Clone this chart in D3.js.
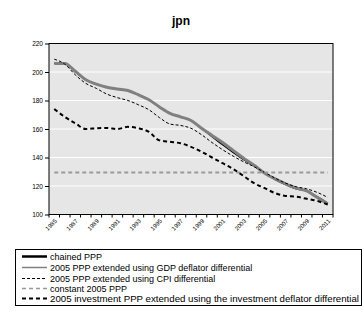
<!DOCTYPE html>
<html>
<head>
<meta charset="utf-8">
<script src="https://cdn.jsdelivr.net/npm/d3@7"></script>
<style>
  body { margin: 0; background: #fff; }
  svg { font-family: "Liberation Sans", Arial, sans-serif; }
</style>
</head>
<body>
<svg id="chart" width="363" height="318"></svg>
<script>
// data
const years = d3.range(1985, 2012);
const chained = [206, 206, 200, 194.5, 191.5, 189.3, 188, 187, 184, 180.5, 175.5, 171, 168.5, 166, 160.5, 154.5, 149, 143.5, 138.5, 134, 129, 124.5, 121, 118, 116.5, 112.5, 108];
const gdpDefl = [206, 206, 200.5, 194.5, 191.5, 189.3, 188, 187, 184, 180.5, 175.5, 171, 168.5, 166, 160.5, 155.5, 150.5, 145, 139.5, 134.5, 129, 125, 121.5, 118.5, 116.5, 112, 107.5];
const cpiDiff = [209, 205.5, 198, 192, 188.5, 184.5, 182, 180, 177, 173.5, 168, 163.5, 162.5, 160.5, 156, 150.5, 145.5, 141, 137, 133.5, 129.5, 125.5, 122, 119.5, 118, 115.5, 112];
const constant05 = years.map(() => 129.5);
const investDiff = [174, 168.5, 164, 160, 160.5, 160.7, 160, 161.5, 160.5, 158, 152, 151, 150, 147.5, 144, 140, 136, 132, 127, 122, 118.5, 115, 113, 112.5, 111, 109.5, 107];
const yTicks = [100, 120, 140, 160, 180, 200, 220];
const xLabels = years.filter((y, i) => i % 2 === 0);

const series = [
  {name: "chained PPP", values: chained, color: "#000", width: 1.3, legendWidth: 2.5, dash: null},
  {name: "2005 PPP extended using  GDP deflator differential", values: gdpDefl, color: "#808080", width: 3, dash: null, legendWidth: 1.5},
  {name: "2005 PPP extended using  CPI differential", values: cpiDiff, color: "#000", width: 1, dash: "3,2"},
  {name: "constant 2005 PPP", values: constant05, color: "#999", width: 2, dash: "4,3", legendWidth: 1.5},
  {name: "2005 investment PPP extended using the investment deflator differential", values: investDiff, color: "#000", width: 2, dash: "4,3"}
];

const svg = d3.select("#chart");
const m = {left: 49, right: 333, top: 43.5, bottom: 214.5};

const x = d3.scaleBand().domain(years).range([m.left, m.right]);
const y = d3.scaleLinear().domain([100, 220]).range([m.bottom, m.top]);
const cx = d => x(d) + x.bandwidth() / 2;

// title
svg.append("text")
  .attr("x", 181).attr("y", 25)
  .attr("text-anchor", "middle")
  .attr("font-size", 12).attr("font-weight", "bold")
  .text("jpn");

// plot bg
svg.append("rect")
  .attr("x", m.left).attr("y", m.top)
  .attr("width", m.right - m.left).attr("height", m.bottom - m.top)
  .attr("fill", "#e6e6e6");

// gridlines
svg.append("g").selectAll("line")
  .data(yTicks.slice(1, -1))
  .join("line")
  .attr("x1", m.left).attr("x2", m.right)
  .attr("y1", d => y(d)).attr("y2", d => y(d))
  .attr("stroke", "#fff").attr("stroke-width", 1);

// lines: chained first, gray GDP line drawn over it
const line = d3.line().x((d, i) => cx(years[i])).y(d => y(d)).curve(d3.curveMonotoneX);
series.forEach(s => {
  svg.append("path")
    .datum(s.values)
    .attr("d", line)
    .attr("fill", "none")
    .attr("stroke", s.color)
    .attr("stroke-width", s.width)
    .attr("stroke-dasharray", s.dash);
});

// frame
svg.append("rect")
  .attr("x", m.left).attr("y", m.top)
  .attr("width", m.right - m.left).attr("height", m.bottom - m.top)
  .attr("fill", "none").attr("stroke", "#000").attr("stroke-width", 1);

// y axis
const yAxis = svg.append("g")
  .attr("transform", `translate(${m.left},0)`)
  .call(d3.axisLeft(y).tickValues(yTicks).tickSize(4).tickPadding(2));
yAxis.select(".domain").remove();
yAxis.selectAll("text").attr("font-size", 6.5).attr("fill", "#000")
  .attr("font-family", "Liberation Sans, Arial, sans-serif");

// x axis ticks at category edges
const edges = years.map(d => x(d)).concat([m.right]);
svg.append("g").selectAll("line")
  .data(edges)
  .join("line")
  .attr("x1", d => d).attr("x2", d => d)
  .attr("y1", m.bottom).attr("y2", m.bottom + 3)
  .attr("stroke", "#000");

svg.append("g").selectAll("text")
  .data(xLabels)
  .join("text")
  .attr("transform", d => `translate(${cx(d) + 3},${m.bottom + 7}) rotate(-45)`)
  .attr("text-anchor", "end")
  .attr("font-size", 6)
  .text(d => d);

// legend
const legend = svg.append("g");
legend.append("rect")
  .attr("x", 15.5).attr("y", 249.5)
  .attr("width", 346).attr("height", 56)
  .attr("fill", "#fff").attr("stroke", "#000").attr("stroke-width", 1);
const rows = [256.5, 267.5, 278.5, 288.5, 298.5];
series.forEach((s, i) => {
  legend.append("line")
    .attr("x1", 22).attr("x2", 47)
    .attr("y1", rows[i]).attr("y2", rows[i])
    .attr("stroke", s.color)
    .attr("stroke-width", s.legendWidth || s.width)
    .attr("stroke-dasharray", s.dash);
  const t = legend.append("text")
    .attr("x", 50).attr("y", rows[i] + 3.3)
    .attr("font-size", 9)
    .text(s.name);
  if (i === 4) t.attr("textLength", 309).attr("lengthAdjust", "spacingAndGlyphs");
});
</script>
</body>
</html>
